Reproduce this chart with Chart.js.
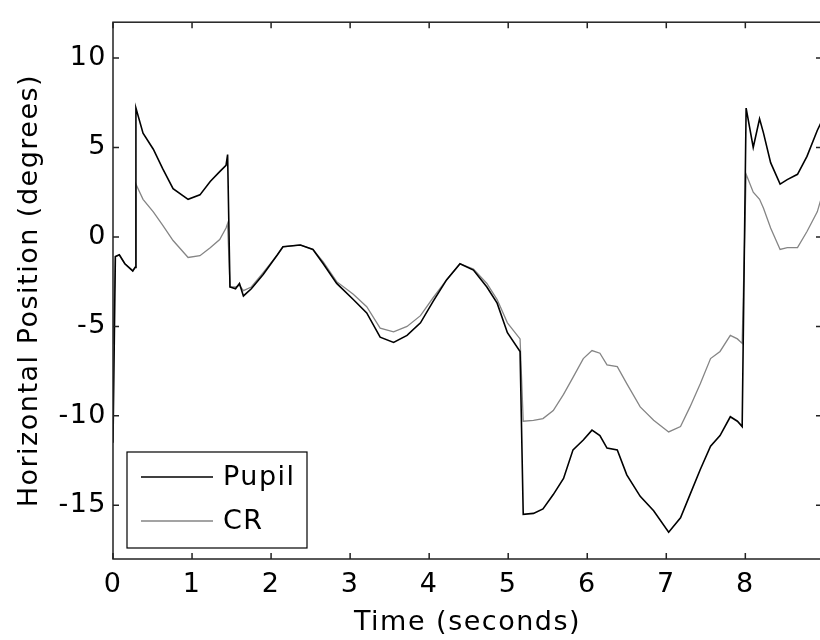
<!DOCTYPE html>
<html>
<head>
<meta charset="utf-8">
<script src="https://cdn.jsdelivr.net/npm/chart.js@4/dist/chart.umd.min.js"></script>
<style>
  html, body { margin: 0; padding: 0; background: #fff; overflow: hidden; }
  #wrap { width: 822px; height: 640px; }
</style>
</head>
<body>
<div id="wrap"><canvas id="eyeChart"></canvas></div>
<script>
// time samples (seconds) and horizontal position (degrees)
const time = [0.00, 0.03, 0.08, 0.15, 0.25, 0.28, 0.29, 0.38, 0.51, 0.63, 0.76, 0.95, 1.10, 1.23, 1.35, 1.43, 1.45,
  1.48, 1.55, 1.60, 1.65, 1.75, 1.90, 2.08, 2.15, 2.37, 2.53, 2.66, 2.83, 3.04, 3.21, 3.38, 3.55, 3.72, 3.89, 4.05,
  4.22, 4.39, 4.56, 4.73, 4.86, 4.99, 5.15, 5.19, 5.32, 5.44, 5.57, 5.70, 5.82, 5.95, 6.06, 6.16, 6.25, 6.38,
  6.50, 6.67, 6.84, 7.03, 7.18, 7.30, 7.43, 7.56, 7.68, 7.81, 7.90, 7.96, 8.01, 8.10, 8.18, 8.23, 8.32, 8.44,
  8.53, 8.66, 8.78, 8.91, 8.97];
const pupil = [-11.5, -1.1, -1.0, -1.5, -1.9, -1.7, 7.2, 5.8, 4.9, 3.8, 2.7, 2.1, 2.35, 3.1, 3.65, 4.0, 4.6,
  -2.8, -2.9, -2.6, -3.3, -2.9, -2.1, -1.0, -0.55, -0.45, -0.7, -1.5, -2.6, -3.5, -4.25, -5.6, -5.9, -5.5, -4.8, -3.6,
  -2.4, -1.5, -1.85, -2.8, -3.7, -5.35, -6.4, -15.5, -15.45, -15.2, -14.4, -13.5, -11.9, -11.35, -10.8, -11.1, -11.8, -11.9,
  -13.3, -14.5, -15.3, -16.5, -15.7, -14.4, -13.0, -11.7, -11.1, -10.05, -10.3, -10.6, 7.2, 5.0, 6.6, 5.8, 4.15, 2.95,
  3.2, 3.5, 4.5, 5.95, 6.5];
const cr = [-6.0, -1.1, -1.0, -1.5, -1.9, -1.7, 2.95, 2.1, 1.4, 0.65, -0.2, -1.15, -1.05, -0.6, -0.15, 0.5, 0.75,
  -2.8, -2.8, -2.7, -3.0, -2.8, -2.0, -1.0, -0.55, -0.45, -0.7, -1.4, -2.5, -3.2, -3.9, -5.1, -5.3, -5.0, -4.4, -3.4,
  -2.4, -1.5, -1.8, -2.6, -3.5, -4.8, -5.7, -10.3, -10.25, -10.15, -9.7, -8.8, -7.85, -6.8, -6.35, -6.5, -7.15, -7.25,
  -8.2, -9.5, -10.25, -10.9, -10.6, -9.5, -8.2, -6.8, -6.4, -5.5, -5.7, -5.95, 3.5, 2.5, 2.1, 1.6, 0.5, -0.7,
  -0.6, -0.6, 0.3, 1.4, 2.3];
const xTicks = [0, 1, 2, 3, 4, 5, 6, 7, 8];
const yTicks = [-15, -10, -5, 0, 5, 10];

const font = { family: 'DejaVu Sans', size: 27 };

// MATLAB style box, inward ticks and a legend inside the axes
const frame = {
  id: 'frame',
  beforeDraw(chart) {
    chart.ctx.letterSpacing = '1.5px';
  },
  afterDatasetsDraw(chart) {
    const { ctx, chartArea: a, scales: { x, y } } = chart;
    ctx.save();
    ctx.strokeStyle = '#222';
    ctx.lineWidth = 1.5;
    ctx.strokeRect(a.left, a.top, a.right - a.left, a.bottom - a.top);
    ctx.beginPath();
    x.ticks.forEach(t => {
      const px = x.getPixelForValue(t.value);
      ctx.moveTo(px, a.bottom); ctx.lineTo(px, a.bottom - 6);
      ctx.moveTo(px, a.top); ctx.lineTo(px, a.top + 6);
    });
    y.ticks.forEach(t => {
      const py = y.getPixelForValue(t.value);
      ctx.moveTo(a.left, py); ctx.lineTo(a.left + 6, py);
      ctx.moveTo(a.right, py); ctx.lineTo(a.right - 6, py);
    });
    ctx.stroke();

    const bx = a.left + 14, bw = 180, bh = 96, by = a.bottom - 11 - bh;
    ctx.fillStyle = '#fff';
    ctx.fillRect(bx, by, bw, bh);
    ctx.lineWidth = 1.2;
    ctx.strokeStyle = '#000';
    ctx.strokeRect(bx, by, bw, bh);
    ctx.font = font.size + 'px ' + font.family;
    ctx.textBaseline = 'middle';
    ctx.textAlign = 'left';
    chart.data.datasets.forEach((ds, i) => {
      const ly = by + 25 + i * 44;
      ctx.strokeStyle = ds.borderColor;
      ctx.lineWidth = ds.borderWidth;
      ctx.beginPath();
      ctx.moveTo(bx + 14, ly); ctx.lineTo(bx + 86, ly);
      ctx.stroke();
      ctx.fillStyle = '#000';
      ctx.fillText(ds.label, bx + 96, ly + 1);
    });
    ctx.restore();
  }
};

new Chart(document.getElementById('eyeChart'), {
  type: 'line',
  data: {
    datasets: [{
      label: 'Pupil',
      data: time.map((t, i) => ({ x: t, y: pupil[i] })),
      borderColor: '#000',
      borderWidth: 1.6,
      pointRadius: 0,
      tension: 0
    }, {
      label: 'CR',
      data: time.map((t, i) => ({ x: t, y: cr[i] })),
      borderColor: '#858585',
      borderWidth: 1.3,
      pointRadius: 0,
      tension: 0
    }]
  },
  options: {
    responsive: true,
    maintainAspectRatio: false,
    animation: false,
    layout: { padding: { top: 11, right: 0, left: 0, bottom: 0 } },
    plugins: {
      legend: { display: false },
      tooltip: { enabled: false }
    },
    scales: {
      x: {
        type: 'linear',
        min: 0,
        max: 8.97,
        afterBuildTicks: s => { s.ticks = xTicks.map(v => ({ value: v })); },
        afterFit: s => { s.height = 81; },
        grid: { display: false, drawTicks: false },
        border: { display: false },
        ticks: { color: '#000', font: font, padding: 10, maxRotation: 0 },
        title: { display: true, text: 'Time (seconds)', color: '#000', font: font, padding: { top: 0, bottom: 1 } }
      },
      y: {
        min: -18,
        max: 12,
        afterBuildTicks: s => { s.ticks = yTicks.map(v => ({ value: v })); },
        afterFit: s => { s.width = 113; },
        grid: { display: false, drawTicks: false },
        border: { display: false },
        ticks: { color: '#000', font: font, padding: 6 },
        title: { display: true, text: 'Horizontal Position (degrees)', color: '#000', font: font, padding: { top: 14, bottom: 0 } }
      }
    }
  },
  plugins: [frame]
});
</script>
</body>
</html>
